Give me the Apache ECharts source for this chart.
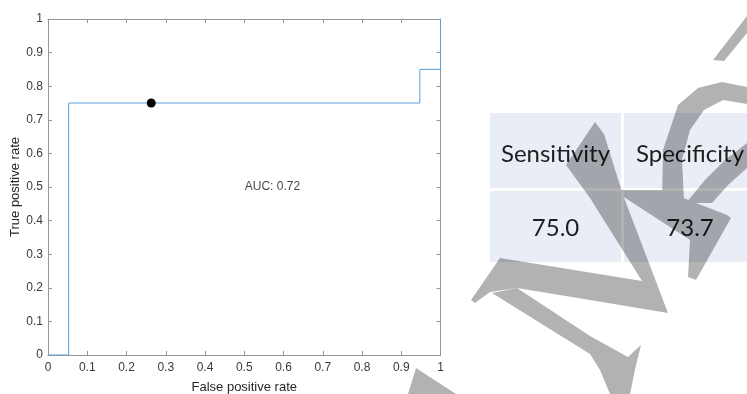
<!DOCTYPE html>
<html><head><meta charset="utf-8">
<script src="https://cdn.jsdelivr.net/npm/echarts@6/dist/echarts.min.js"></script>
<style>html,body{margin:0;padding:0;background:#fff}#c{width:747px;height:394px}</style>
</head><body><div id="c"></div>
<script>
// ROC curve (step points)
const fpr = [0, 0.0526, 0.0526, 0.9474, 0.9474, 1, 1];
const tpr = [0, 0, 0.75, 0.75, 0.85, 0.85, 1];
const operatingPoint = [0.263, 0.75];
const aucLabel = 'AUC: 0.72';
const aucAnchor = [0.5, 0.5];
const metricNames = ['Sensitivity', 'Specificity'];
const metricValues = ['75.0', '73.7'];

// watermark outline (decoration, pixel space)
const watermark = [
  [[595,122],[604,134],[623,195],[668,313],[642,281],[590,198],[566,165]],
  [[500,258],[642,281],[668,313],[590,300],[517,288],[490,292],[475,303],[471,300]],
  [[492,293],[517,288],[590,336],[628,357],[641,345],[636,365],[630,394],[610,394],[600,370],[590,354]],
  [[416,368],[456,394],[408,394]],
  [[713,60],[724,61],[747,33],[747,16]],
  [[662,200],[663,150],[678,105],[698,88],[722,82],[747,87],[747,104],[723,100],[704,110],[690,130],[682,160],[684,200]],
  [[686,203],[705,180],[725,160],[747,143],[747,168],[728,185],[712,203]],
  [[613,190],[663,190],[727,215],[731,218],[696,280],[688,277],[690,240]]
];
const wmPath = watermark.map(p => 'M' + p.map(q => q.join(' ')).join(' L') + ' Z').join(' ');

const axisCol = '#959595';
const labelCol = '#3a3a3a';
const font = 'Liberation Sans, Arial, Helvetica, sans-serif';

const chart = echarts.init(document.getElementById('c'), null, {renderer: 'canvas'});
const base = {
  min: 0, max: 1, interval: 0.1, type: 'value',
  axisLine: {show: true, onZero: false, lineStyle: {color: axisCol, width: 1}},
  axisTick: {show: true, inside: true, length: 4, lineStyle: {color: axisCol}},
  splitLine: {show: false}
};
const cellX = [[490, 131], [624, 123]];
const rowY = [[113, 75], [191, 71]];
const colCenter = [555.5, 690];
function overlay() {
  const ch = [];
  cellX.forEach(c => rowY.forEach(r => ch.push({type: 'rect', shape: {x: c[0], y: r[0], width: c[1], height: r[1]}, style: {fill: '#e9edf6'}})));
  metricNames.forEach((n, i) => ch.push({type: 'text', x: colCenter[i], y: 154, style: {text: n, font: '24px Lato', fill: '#1e1e1e', align: 'center', verticalAlign: 'middle'}}));
  metricValues.forEach((n, i) => ch.push({type: 'text', x: colCenter[i], y: 228, style: {text: n, font: '24px Lato', fill: '#1e1e1e', align: 'center', verticalAlign: 'middle'}}));
  ch.push({type: 'path', shape: {pathData: wmPath}, style: {fill: 'rgba(0,0,0,0.3)'}});
  return {type: 'group', children: ch};
}

chart.setOption({
  animation: false,
  backgroundColor: '#fff',
  grid: {left: 48, top: 19, width: 392.5, height: 336, outerBoundsMode: 'none', containLabel: false},
  xAxis: [
    Object.assign({}, base, {
      position: 'bottom',
      axisLabel: {color: labelCol, fontSize: 12, fontFamily: font, margin: 7},
      name: 'False positive rate', nameLocation: 'middle', nameGap: 26, nameMoveOverlap: false,
      nameTextStyle: {color: '#262626', fontSize: 13, fontFamily: font}
    }),
    Object.assign({}, base, {position: 'top', axisLabel: {show: false}})
  ],
  yAxis: [
    Object.assign({}, base, {
      position: 'left',
      axisLabel: {color: labelCol, fontSize: 12, fontFamily: font, margin: 5},
      name: 'True positive rate', nameLocation: 'middle', nameGap: 26, nameMoveOverlap: false,
      nameTextStyle: {color: '#262626', fontSize: 13, fontFamily: font}
    }),
    Object.assign({}, base, {position: 'right', axisLabel: {show: false}})
  ],
  series: [
    {
      type: 'line', xAxisIndex: 0, yAxisIndex: 0,
      data: fpr.map((x, i) => [x, tpr[i]]),
      showSymbol: false, symbol: 'none',
      lineStyle: {color: '#5aa2dc', width: 1},
      z: 3
    },
    {
      type: 'scatter', data: [operatingPoint],
      symbolSize: 9, itemStyle: {color: '#000', opacity: 1}, z: 4
    },
    {
      type: 'scatter', data: [aucAnchor], symbolSize: 1,
      itemStyle: {color: 'rgba(0,0,0,0)'},
      label: {show: true, position: 'right', distance: 0, formatter: aucLabel, color: '#111', fontSize: 12, fontFamily: font},
      z: 4
    },
    {
      type: 'custom', coordinateSystem: 'none', data: [[0]], silent: true, z: 100,
      renderItem: overlay
    }
  ]
});
</script></body></html>
